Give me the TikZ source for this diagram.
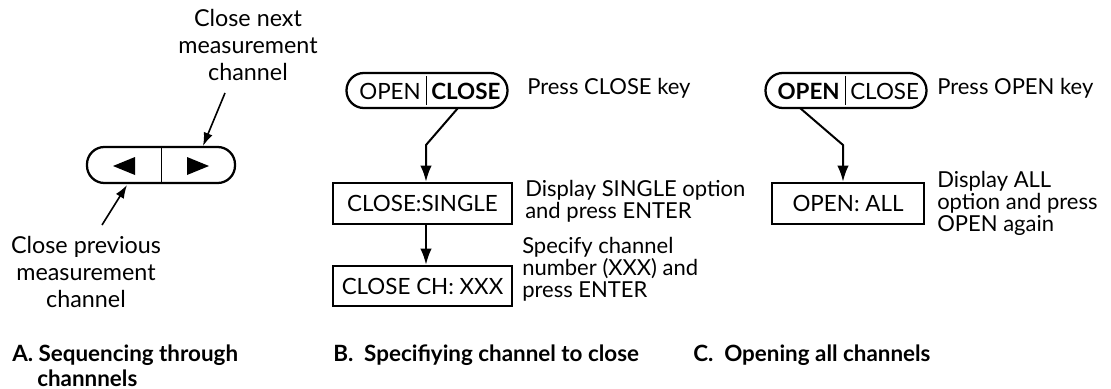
\documentclass[tikz,border=0pt]{standalone}
\usepackage{fontspec}
\setmainfont{Lato}
\usetikzlibrary{arrows.meta}
\begin{document}
\begin{tikzpicture}[x=0.75pt,y=-0.75pt,
  pill/.style={draw,line width=1.7pt,rounded corners=13pt,inner sep=0pt},
  dispbox/.style={draw,line width=1.9pt,inner sep=0pt,font=\fontsize{16.8}{18}\selectfont},
  lbl/.style={font=\fontsize{16.5}{16.5}\selectfont,align=left,anchor=west,inner sep=0pt},
  albl/.style={font=\fontsize{17.5}{20.2}\selectfont,align=center,inner sep=0pt},
  captxt/.style={font=\bfseries\fontsize{16.8}{17.5}\selectfont,align=left,anchor=west,inner sep=0pt},
  keytxt/.style={font=\fontsize{16.8}{18}\selectfont,inner sep=0pt},
  arr/.style={line width=1.5pt,-{Latex[length=12pt,width=8.5pt]}},
  thinarr/.style={line width=1.2pt,-{Latex[length=10pt,width=7pt]}},
  divider/.style={line width=0.6pt}]
\useasboundingbox (0,0) rectangle (1111,389);

% ---------- A ----------
\node[pill,minimum width=148*0.75pt,minimum height=36*0.75pt] (keyA) at (161,165) {};
\draw[divider] (keyA.north) -- (keyA.south);
\fill (113,166) -- (135,157) -- (135,175) -- cycle;
\fill (209,166) -- (187,157) -- (187,175) -- cycle;
\node[albl] (nextlbl) at (248,45) {Close next\\measurement\\channel};
\node[albl] (prevlbl) at (86,272) {Close previous\\measurement\\channel};
\coordinate (nexttip) at (203,146);
\coordinate (nextstart) at (225,93);
\coordinate (prevtip) at (127,185);
\coordinate (prevstart) at (102,225);
\draw[thinarr] (nextstart) -- (nexttip);
\draw[thinarr] (prevstart) -- (prevtip);
\node[captxt] (capA) at (12,355) {A. Sequencing through};
\node[captxt] (capA2) at (37,378) {channnels};

% ---------- B ----------
\node[pill,minimum width=161*0.75pt,minimum height=35*0.75pt] (keyB) at (427,90.5) {};
\draw[divider] (426,76) -- (426,105);
\node[keytxt,anchor=east] (openB) at (421,91) {OPEN};
\node[keytxt,anchor=west,font=\bfseries\fontsize{16.8}{18}\selectfont] (closeB) at (431,91) {CLOSE};
\node[lbl] (pressB) at (527,88) {Press CLOSE key};
\node[dispbox,minimum width=179*0.75pt,minimum height=41*0.75pt] (single) at (422.5,203.5) {CLOSE:SINGLE};
\node[lbl] (singlelbl) at (525,201) {Display SINGLE option\\and press ENTER};
\node[dispbox,minimum width=179*0.75pt,minimum height=40*0.75pt] (chbox) at (422.5,286) {CLOSE CH: XXX};
\node[lbl] (chlbl) at (522,269) {Specify channel\\number (XXX) and\\press ENTER};
\coordinate (bendB) at (426,145);
\draw[arr] (458,108) -- (bendB) -- (single.north -| bendB);
\draw[arr] (single.south -| bendB) -- (chbox.north -| bendB);
\node[captxt] (capB) at (333,355) {B.\ \ Specifiying channel to close};

% ---------- C ----------
\node[pill,minimum width=161*0.75pt,minimum height=35*0.75pt] (keyC) at (846,90.5) {};
\draw[divider] (845,76) -- (845,105);
\node[keytxt,anchor=east,font=\bfseries\fontsize{16.8}{18}\selectfont] (openC) at (840,91) {OPEN};
\node[keytxt,anchor=west] (closeC) at (850,91) {CLOSE};
\node[lbl] (pressC) at (937,88) {Press OPEN key};
\node[dispbox,minimum width=152*0.75pt,minimum height=41*0.75pt] (allbox) at (848,203.5) {OPEN: ALL};
\node[lbl] (alllbl) at (937,203) {Display ALL\\option and press\\OPEN again};
\coordinate (bendC) at (843,145);
\draw[arr] (800,108) -- (bendC) -- (allbox.north -| bendC);
\node[captxt] (capC) at (693,355) {C.\ \ Opening all channels};
\end{tikzpicture}
\end{document}
